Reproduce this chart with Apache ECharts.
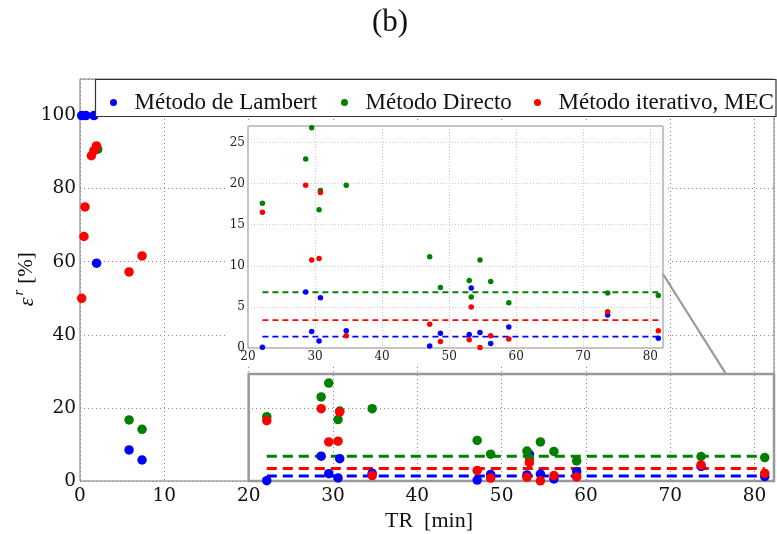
<!DOCTYPE html>
<html>
<head>
<meta charset="utf-8">
<script src="https://cdn.jsdelivr.net/npm/echarts@6/dist/echarts.min.js"></script>
<style>
  html, body { margin: 0; padding: 0; background: #fff; }
  #chart { width: 777px; height: 534px; }
</style>
</head>
<body>
<div id="chart"></div>
<script>
// Long runs (TR > 20 min): run time and relative error of each method
const runTime    = [22.15, 28.6, 29.5, 30.6, 30.8, 34.65, 47.1, 48.7, 53.0, 53.3, 54.6, 56.2, 58.9, 73.65, 81.2];
const errLambert = [0.1, 6.8, 2.0, 0.85, 6.1, 2.1, 0.25, 1.8, 1.65, 7.3, 1.9, 0.55, 2.55, 4.0, 1.2];
const errDirecto = [17.6, 23.0, 26.8, 16.8, 19.15, 19.8, 11.1, 7.35, 8.2, 6.2, 10.7, 8.1, 5.5, 6.7, 6.4];
const errMEC     = [16.5, 19.8, 10.7, 10.9, 18.9, 1.5, 2.9, 0.8, 1.0, 5.0, 0.05, 1.5, 1.1, 4.4, 2.1];

// Short runs (TR < 10 min)
const shortTimeLambert = [0.2, 0.7, 1.65, 1.97, 5.82, 7.36];
const shortErrLambert  = [100, 100, 100, 59.6, 8.5, 5.75];
const shortTimeDirecto = [2.1, 5.82, 7.36];
const shortErrDirecto  = [90.8, 16.7, 14.15];
const shortTimeMEC     = [0.2, 0.47, 0.59, 1.35, 1.65, 1.95, 5.82, 7.36];
const shortErrMEC      = [50.0, 66.9, 75.0, 89.0, 90.4, 91.7, 57.2, 61.6];

// Reference levels over the long runs (Lambert, Directo, MEC)
const levelLambert = 1.38;
const levelDirecto = 6.78;
const levelMEC     = 3.4;

// Tick values
const mainXTicks  = [0, 10, 20, 30, 40, 50, 60, 70, 80];
const mainYTicks  = [0, 20, 40, 60, 80, 100];
const insetXTicks = [20, 30, 40, 50, 60, 70, 80];
const insetYTicks = [0, 5, 10, 15, 20, 25];

// Zoomed region shown in the inset and its connector
const zoomRegion = { x0: 20, x1: 84, y0: 0, y1: 29.3 };
const connectorInset = [81.9, 9.0];
const connectorMain  = [76.6, 29.3];

const names = ['Método de Lambert', 'Método Directo', 'Método iterativo, MEC'];
const colors = ['#0000ff', '#008000', '#ff0000'];

const pairs = (xs, ys) => xs.map((x, i) => [x, ys[i]]);
const longSets  = [errLambert, errDirecto, errMEC].map(ys => pairs(runTime, ys));
const shortSets = [
  pairs(shortTimeLambert, shortErrLambert),
  pairs(shortTimeDirecto, shortErrDirecto),
  pairs(shortTimeMEC, shortErrMEC)
];
const levels = [levelLambert, levelDirecto, levelMEC];
const xFirst = runTime[0], xLast = runTime[runTime.length - 1];

const serifTicks = 'DejaVu Serif';
const serifText = 'Liberation Serif';

const chart = echarts.init(document.getElementById('chart'), null, { renderer: 'canvas' });

const series = [];
// main panel
names.forEach((n, k) => {
  series.push({
    name: n, type: 'scatter', xAxisIndex: 0, yAxisIndex: 0,
    symbolSize: 9.5, itemStyle: { color: colors[k], opacity: 1 },
    data: shortSets[k].concat(longSets[k]), z: 3 + k,
    markArea: k === 0 ? {
      silent: true,
      itemStyle: { color: 'rgba(0,0,0,0)', borderColor: '#999', borderWidth: 2.5 },
      data: [[{ coord: [zoomRegion.x0, zoomRegion.y0] }, { coord: [zoomRegion.x1, zoomRegion.y1] }]]
    } : undefined
  });
});
names.forEach((n, k) => {
  series.push({
    name: n, type: 'line', xAxisIndex: 0, yAxisIndex: 0, symbol: 'none',
    lineStyle: { color: colors[k], width: 3, type: [10, 6] },
    data: [[xFirst, levels[k]], [xLast, levels[k]]], z: 2
  });
});
// inset panel
names.forEach((n, k) => {
  series.push({
    name: n, type: 'line', xAxisIndex: 1, yAxisIndex: 1, symbol: 'none',
    lineStyle: { color: colors[k], width: 1.8, type: [6, 4] },
    data: [[xFirst, levels[k]], [xLast, levels[k]]], z: 12
  });
});
names.forEach((n, k) => {
  series.push({
    name: n, type: 'scatter', xAxisIndex: 1, yAxisIndex: 1,
    symbolSize: 5.5, itemStyle: { color: colors[k], opacity: 1 },
    data: longSets[k], z: 13 + k
  });
});

const tickFilter = ticks => v => ticks.indexOf(v) >= 0 ? String(v) : '';

const option = {
  animation: false,
  backgroundColor: '#fff',
  grid: [
    { left: 80, top: 79, bottom: 53, right: 0, show: true, borderColor: '#777', borderWidth: 1, z: 0 },
    { left: 248, top: 126, right: 114, bottom: 186, show: true, borderColor: '#888', borderWidth: 1, backgroundColor: '#fff', z: 10 }
  ],
  xAxis: [
    {
      type: 'value', gridIndex: 0, min: 0, max: 82.3, interval: 10, z: 0,
      axisLine: { show: false }, axisTick: { show: false },
      axisLabel: { formatter: tickFilter(mainXTicks), fontFamily: serifTicks, fontSize: 18.5, color: '#111', margin: 6 },
      splitLine: { show: true, lineStyle: { color: '#888', type: [1, 3], width: 1 } }
    },
    {
      type: 'value', gridIndex: 1, min: 20, max: 81.9, interval: 10, z: 11,
      axisLine: { show: false }, axisTick: { show: false },
      axisLabel: { formatter: tickFilter(insetXTicks), showMaxLabel: false, fontFamily: serifTicks, fontSize: 12, color: '#222', margin: 3 },
      splitLine: { show: true, lineStyle: { color: '#c8c8c8', type: [1, 2], width: 1 } }
    }
  ],
  yAxis: [
    {
      type: 'value', gridIndex: 0, min: 0, max: 110, interval: 20, z: 0,
      axisLine: { show: false }, axisTick: { show: false },
      axisLabel: { formatter: tickFilter(mainYTicks), showMaxLabel: false, fontFamily: serifTicks, fontSize: 18.5, color: '#111', margin: 4 },
      splitLine: { show: true, lineStyle: { color: '#888', type: [1, 3], width: 1 } }
    },
    {
      type: 'value', gridIndex: 1, min: 0, max: 27, interval: 5, z: 11,
      axisLine: { show: false }, axisTick: { show: false },
      axisLabel: { formatter: tickFilter(insetYTicks), showMaxLabel: false, fontFamily: serifTicks, fontSize: 12, color: '#222', margin: 3 },
      splitLine: { show: true, lineStyle: { color: '#c8c8c8', type: [1, 2], width: 1 } }
    }
  ],
  legend: [0, 1, 2].map((k, i) => ({
    data: [names[k]],
    left: [105, 336, 529][i], top: 86,
    itemWidth: 32, itemHeight: 7, icon: 'circle', z: 30,
    selectedMode: false,
    textStyle: { fontFamily: serifText, fontSize: 23, color: '#111' }
  })),
  series: series
};

chart.setOption(option);

// Annotations placed from the rendered axes
function drawAnnotations() {
  const pIn = chart.convertToPixel({ xAxisIndex: 1, yAxisIndex: 1 }, connectorInset);
  const pMain = chart.convertToPixel({ xAxisIndex: 0, yAxisIndex: 0 }, connectorMain);
  const label = (txt, x, y, size, italic) => ({
    type: 'text', z: 40, x: x, y: y, rotation: Math.PI / 2,
    style: { text: txt, font: (italic ? 'italic ' : '') + size + 'px "Liberation Serif"', fill: '#111', align: 'center', verticalAlign: 'middle' }
  });
  chart.setOption({
    graphic: [
      { type: 'text', z: 40, x: 390, y: 23,
        style: { text: '(b)', font: '31px "Liberation Serif"', fill: '#111', align: 'center', verticalAlign: 'middle' } },
      // white backing of the inset (covers the main grid behind it)
      { type: 'rect', z: 5, silent: true,
        shape: { x: 227, y: 120, width: 441, height: 244 },
        style: { fill: '#fff', stroke: null } },
      // connector from the inset to the zoomed region
      { type: 'line', z: 20, silent: true,
        shape: { x1: pIn[0], y1: pIn[1], x2: pMain[0], y2: pMain[1] },
        style: { stroke: '#999', lineWidth: 2.2 } },
      // legend frame
      { type: 'rect', z: 25, silent: true,
        shape: { x: 95.5, y: 79.5, width: 680.5, height: 37 },
        style: { fill: '#fff', stroke: '#333', lineWidth: 1.2 } },
      // axis titles
      { type: 'text', z: 40, x: 429, y: 521,
        style: { text: 'TR  [min]', font: '22px "Liberation Serif"', fill: '#111', align: 'center', verticalAlign: 'middle' } },
      label('ε', 27, 302, 22, true),
      label('r', 19, 292.5, 15, true),
      label('[%]', 26, 268, 21, false)
    ]
  });
}
drawAnnotations();
</script>
</body>
</html>
